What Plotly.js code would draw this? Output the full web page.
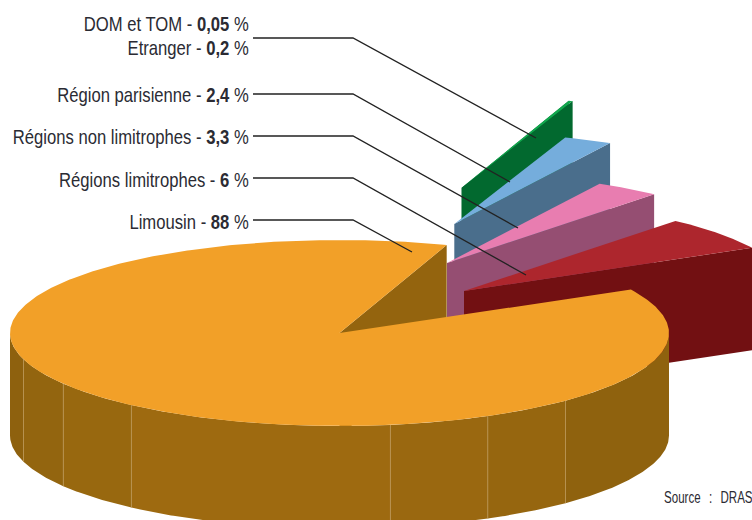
<!DOCTYPE html>
<html><head><meta charset="utf-8">
<script src="https://cdn.plot.ly/plotly-3.0.1.min.js"></script>
<style>html,body{margin:0;padding:0;background:#fff;overflow:hidden}#c{width:752px;height:520px}</style>
</head><body><div id="c"></div>
<script>
// ---- data ----
const categories = ["Régions limitrophes","Régions non limitrophes","Région parisienne","Etranger","DOM et TOM","Limousin"];
const shares = [6,3.3,2.4,0.2,0.05,88];
const shareLabels = ["6","3,3","2,4","0,2","0,05","88"];

// ---- styles / geometry of the projected pie ----
const topColors  = ["#AD262D","#E87DB0","#75ADDC","#12A84E","#12A84E","#F2A028"];
const wallColors = ["#721012","#954E72","#4A6E8C","#02692F","#02692F","#94640E"];
const explodeX = [124.5,107.5,114.8,122.2,122.2,0];
const explodeY = [-42,-70,-109,-145.3,-145.3,0];
const radiusScale = [0.99,0.97,0.99,0.99,0.99,1];
const cx=339.5, cy=333, rx=329.5, ry=93, depth=102.5, startAngle=28;
const facetX = [10,23.5,63.3,131.4,390.4,487.8,565.5,669];
const facetColors = ["#8E610E","#93650F","#98680F","#9E6A10","#9A6810","#96660F","#8F620E"];
const facetLine = "#B99350";
const labelOrder = [4,3,2,1,0,5];
const labelY = [24,48,95,137,180,222];
const labelRight = 249, labelSqueeze = 0.833;
const sourceLeft = 664, sourceSqueeze = 0.68, sourceWordGap = 7.5;
const leaders = [[38,536,138],[94,510,182],[136,518,228],[178,526,275],[220,412,252]];
const leaderStart=253, leaderElbow=353;
const font = "'Liberation Sans',Arial,sans-serif";

const rad = d=>d*Math.PI/180;
const px = (a,r,ox)=>cx+ox+rx*r*Math.cos(rad(a));
const py = (a,r,oy)=>cy+oy-ry*r*Math.sin(rad(a));
function poly(xs,ys,color){return {type:"scatter",mode:"lines",x:xs.concat(xs[0]),y:ys.concat(ys[0]),fill:"toself",fillcolor:color,line:{width:0,color:color},hoverinfo:"skip",showlegend:false};}
function arc(a0,a1,r,ox,oy,dy){const n=Math.max(2,Math.ceil(Math.abs(a1-a0)*2)),X=[],Y=[];for(let i=0;i<=n;i++){const a=a0+(a1-a0)*i/n;X.push(px(a,r,ox));Y.push(py(a,r,oy)+(dy||0));}return [X,Y];}

let angle=startAngle; const spans=shares.map(v=>{const s=[angle,angle+v*3.6];angle=s[1];return s;});
const traces=[];
// exploded slices, back to front
[4,3,2,1,0].forEach(i=>{
  const [a0,a1]=spans[i],ox=explodeX[i],oy=explodeY[i],r=radiusScale[i];
  const tx=cx+ox,ty=cy+oy,ex=px(a0,r,ox),ey=py(a0,r,oy);
  traces.push(poly([tx,ex,ex,tx],[ty,ey,ey+depth,ty+depth],wallColors[i]));
  const [X,Y]=arc(a0,a1,r,ox,oy);
  traces.push(poly([tx].concat(X),[ty].concat(Y),topColors[i]));
});
// main slice
const m=5,[m0,m1]=spans[m];
const ex=px(m0,1,0),ey=py(m0,1,0);
traces.push(poly([cx,ex,ex,cx],[cy,ey,ey+depth,cy+depth],wallColors[m]));
facetColors.forEach((c,i)=>{
  const aL=360-Math.acos((facetX[i]-cx)/rx)*180/Math.PI, aR=360-Math.acos((facetX[i+1]-cx)/rx)*180/Math.PI;
  const [X,Y]=arc(aL,aR,1,0,0,0),[X2,Y2]=arc(aR,aL,1,0,0,depth);
  traces.push(poly(X.concat(X2),Y.concat(Y2),c));
  if(i>0){const yT=py(aL,1,0);traces.push({type:"scatter",mode:"lines",x:[facetX[i],facetX[i]],y:[yT,yT+depth],line:{width:0.8,color:facetLine},hoverinfo:"skip",showlegend:false});}
});
{const [X,Y]=arc(m0,m1,1,0,0);traces.push(poly([cx].concat(X),[cy].concat(Y),topColors[m]));}
// leader lines
leaders.forEach(l=>traces.push({type:"scatter",mode:"lines",x:[leaderStart,leaderElbow,l[1]],y:[l[0],l[0],l[2]],line:{width:1.3,color:"#222222"},hoverinfo:"skip",showlegend:false}));

const annotations=labelOrder.map((i,k)=>({x:labelRight,y:labelY[k],xref:"x",yref:"y",xanchor:"right",yanchor:"middle",showarrow:false,
  text:categories[i]+" - <b>"+shareLabels[i]+"</b> %",font:{family:font,size:20,color:"#2B2B33"}}));
annotations.push({x:sourceLeft,y:497,xref:"x",yref:"y",xanchor:"left",yanchor:"middle",showarrow:false,text:"Source : DRAS",font:{family:font,size:17,color:"#2B2B33"}});

Plotly.newPlot("c",traces,{width:752,height:520,margin:{l:0,r:0,t:0,b:0},paper_bgcolor:"#fff",plot_bgcolor:"#fff",showlegend:false,
  xaxis:{range:[0,752],visible:false,fixedrange:true},yaxis:{range:[520,0],visible:false,fixedrange:true},annotations},{displayModeBar:false,staticPlot:true}).then(()=>{
  // The reference face is a condensed grotesque: squeeze the installed sans horizontally.
  const host=document.getElementById("c").getBoundingClientRect();
  document.querySelectorAll("#c text.annotation-text").forEach(t=>{
    const isSource=t.textContent.startsWith("Source");
    if(isSource) t.setAttribute("word-spacing",sourceWordGap);
    const b=t.getBBox(), c=t.getBoundingClientRect();
    if(isSource){
      const L=b.x, dx=sourceLeft-(c.left-host.left);
      t.setAttribute("transform","translate("+(L+dx)+",0) scale("+sourceSqueeze+",1) translate("+(-L)+",0)");
    } else {
      const R=b.x+b.width, dx=labelRight-(c.right-host.left);
      t.setAttribute("transform","translate("+(R+dx)+",0) scale("+labelSqueeze+",1) translate("+(-R)+",0)");
    }
  });
});
</script></body></html>
